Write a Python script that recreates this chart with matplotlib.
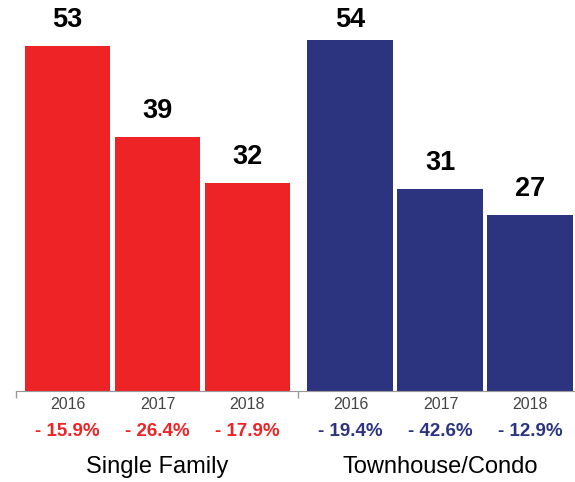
import matplotlib.pyplot as plt

plt.rcParams['font.family'] = ['Liberation Sans', 'DejaVu Sans']

# Data
groups = ['Single Family', 'Townhouse/Condo']
years = ['2016', '2017', '2018']
single_family = [53, 39, 32]
townhouse = [54, 31, 27]
sf_change = ['- 15.9%', '- 26.4%', '- 17.9%']
th_change = ['- 19.4%', '- 42.6%', '- 12.9%']

red = '#ee2326'
blue = '#2c3480'

fig = plt.figure(figsize=(5.75, 4.82), dpi=100)
ax = fig.add_axes([16 / 575, 91 / 482, 559 / 575, 391 / 482])

gap = 1.144
x_sf = [0, 1, 2]
x_th = [i + 2 + gap for i in range(3)]
width = 0.955
ytop = 391 / 6.5

ax.bar(x_sf, single_family, width=width, color=red)
ax.bar(x_th, townhouse, width=width, color=blue)

# value labels sit ~26px above the bar, but never above the top row
label_cap = ytop - 20 / 6.5
for xs, vals in [(x_sf, single_family), (x_th, townhouse)]:
    for x, v in zip(xs, vals):
        ax.text(x, min(v + 26 / 6.5, label_cap), str(v), ha='center',
                va='center', fontsize=19.5, fontweight='bold')

ax.set_xlim(-0.572, 5.639)
ax.set_ylim(0, ytop)

ax.set_xticks([-0.572, 2.56])
ax.set_xticklabels([])
ax.tick_params(axis='x', direction='out', length=5, color='#999999', width=1)
ax.set_yticks([])
for s in ['top', 'right', 'left']:
    ax.spines[s].set_visible(False)
ax.spines['bottom'].set_color('#999999')

trans = ax.get_xaxis_transform()
for xs, changes, col, name in [(x_sf, sf_change, red, groups[0]),
                               (x_th, th_change, blue, groups[1])]:
    for x, yr, ch in zip(xs, years, changes):
        ax.annotate(yr, (x, 0), xycoords=trans, xytext=(0, -9.5),
                    textcoords='offset points', ha='center', va='center',
                    fontsize=11.5, color='#444444')
        ax.annotate(ch, (x, 0), xycoords=trans, xytext=(0, -29.5),
                    textcoords='offset points', ha='center', va='center',
                    fontsize=13.5, fontweight='bold', color=col)
    ax.annotate(name, (xs[1], 0), xycoords=trans, xytext=(0, -55),
                textcoords='offset points', ha='center', va='center',
                fontsize=17, color='black')

fig.savefig('out.png', dpi=100)
